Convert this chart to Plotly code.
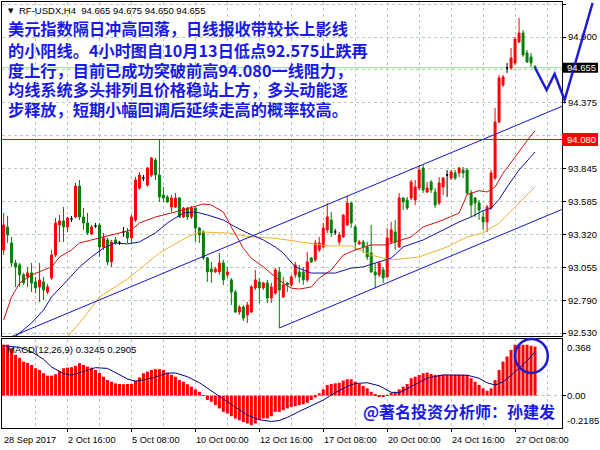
import plotly.graph_objects as go

# ---------------- data ----------------
bar_index = list(range(134))
opens = [93.196, 93.38, 93.252, 93.092, 93.076, 92.996, 92.98, 93.012, 92.94, 92.9,
         92.94, 92.859, 92.972, 93.156, 93.396, 93.428, 93.38, 93.444, 93.46, 93.708,
         93.46, 93.412, 93.324, 93.388, 93.396, 93.22, 93.276, 93.1, 93.276, 93.252,
         93.34, 93.34, 93.292, 93.436, 93.692, 93.772, 93.716, 93.796, 93.916, 93.796,
         93.636, 93.62, 93.54, 93.54, 93.612, 93.46, 93.532, 93.46, 93.532, 93.372,
         93.34, 93.132, 93.044, 93.02, 93.02, 93.092, 92.996, 92.956, 92.859, 92.699,
         92.739, 92.675, 92.699, 92.892, 92.94, 92.892, 92.932, 92.811, 92.851, 93.02,
         92.819, 92.932, 92.916, 92.996, 93.02, 93.02, 92.956, 93.132, 93.116, 93.196,
         93.22, 93.356, 93.436, 93.34, 93.26, 93.3, 93.396, 93.572, 93.38, 93.244,
         93.26, 93.22, 93.172, 93.02, 92.996, 93.036, 92.98, 93.26, 93.34, 93.22,
         93.612, 93.596, 93.612, 93.596, 93.692, 93.852, 93.66, 93.74, 93.66, 93.572,
         93.7, 93.796, 93.772, 93.812, 93.812, 93.836, 93.836, 93.652, 93.612, 93.572,
         93.46, 93.42, 93.532, 93.772, 94.22, 94.516, 94.653, 94.653, 94.693, 94.861,
         94.933, 94.773, 94.741, 94.665]
highs = [93.492, 93.468, 93.3, 93.116, 93.092, 93.012, 93.06, 93.092, 92.98, 93.092,
         92.98, 92.924, 93.196, 93.452, 93.476, 93.54, 93.46, 93.468, 93.732, 93.756,
         93.532, 93.492, 93.396, 93.412, 93.412, 93.332, 93.292, 93.276, 93.3, 93.268,
         93.38, 93.372, 93.476, 93.78, 93.82, 93.796, 93.86, 93.94, 93.932, 94.076,
         93.7, 93.636, 93.636, 93.652, 93.62, 93.54, 93.54, 93.548, 93.54, 93.38,
         93.356, 93.14, 93.1, 93.06, 93.172, 93.116, 93.06, 92.972, 92.875, 92.755,
         92.755, 92.779, 92.916, 93.036, 92.972, 92.94, 92.956, 92.932, 93.052, 93.06,
         92.98, 92.94, 92.996, 93.1, 93.076, 93.06, 93.18, 93.14, 93.276, 93.3,
         93.412, 93.572, 93.5, 93.364, 93.34, 93.484, 93.628, 93.58, 93.396, 93.276,
         93.276, 93.26, 93.396, 93.092, 93.1, 93.06, 93.372, 93.42, 93.436, 93.652,
         93.62, 93.62, 93.756, 93.756, 93.876, 93.876, 93.74, 93.756, 93.692, 93.78,
         93.78, 93.836, 93.836, 93.836, 93.86, 93.86, 93.852, 93.676, 93.62, 93.596,
         93.516, 93.556, 93.836, 94.332, 94.597, 94.597, 94.693, 94.813, 94.901, 95.053,
         94.957, 94.797, 94.773, 94.675]
lows = [93.156, 93.252, 93.06, 92.9, 92.9, 92.916, 92.9, 92.859, 92.851, 92.779,
        92.795, 92.843, 92.956, 93.14, 93.26, 93.26, 93.34, 93.42, 93.452, 93.436,
        93.356, 93.316, 93.316, 93.372, 93.14, 93.196, 93.076, 93.06, 93.236, 93.236,
        93.3, 93.252, 93.252, 93.42, 93.676, 93.748, 93.7, 93.78, 93.756, 93.58,
        93.58, 93.572, 93.5, 93.532, 93.452, 93.452, 93.436, 93.444, 93.26, 93.252,
        93.116, 92.94, 92.932, 93.012, 92.996, 92.916, 92.972, 92.755, 92.691, 92.675,
        92.627, 92.611, 92.691, 92.875, 92.771, 92.875, 92.771, 92.771, 92.835, 92.571,
        92.811, 92.859, 92.9, 92.972, 92.932, 92.916, 92.94, 93.092, 93.1, 93.18,
        93.212, 93.332, 93.3, 93.316, 93.236, 93.292, 93.388, 93.372, 93.196, 93.236,
        93.172, 93.116, 93.012, 92.892, 92.98, 92.932, 92.972, 93.252, 93.196, 93.212,
        93.516, 93.516, 93.596, 93.556, 93.676, 93.652, 93.652, 93.652, 93.532, 93.556,
        93.636, 93.62, 93.756, 93.756, 93.78, 93.772, 93.636, 93.46, 93.46, 93.436,
        93.356, 93.34, 93.516, 93.756, 94.212, 94.5, 94.613, 94.637, 94.677, 94.853,
        94.741, 94.693, 94.661, 94.65]
closes = [93.396, 93.316, 93.092, 93.06, 92.996, 92.932, 93.012, 92.932, 92.892, 92.956,
          92.875, 92.9, 93.156, 93.412, 93.428, 93.38, 93.452, 93.444, 93.708, 93.46,
          93.412, 93.332, 93.38, 93.388, 93.22, 93.292, 93.1, 93.26, 93.252, 93.252,
          93.34, 93.292, 93.46, 93.756, 93.796, 93.772, 93.852, 93.932, 93.796, 93.62,
          93.612, 93.58, 93.612, 93.612, 93.46, 93.532, 93.46, 93.532, 93.372, 93.316,
          93.132, 93.02, 93.02, 93.044, 93.092, 92.956, 93.02, 92.859, 92.699, 92.739,
          92.651, 92.755, 92.9, 92.956, 92.892, 92.932, 92.811, 92.9, 93.036, 92.875,
          92.916, 92.916, 92.98, 93.076, 92.98, 92.956, 93.1, 93.1, 93.252, 93.252,
          93.372, 93.46, 93.332, 93.34, 93.316, 93.476, 93.572, 93.412, 93.26, 93.26,
          93.22, 93.14, 93.02, 92.996, 93.092, 92.972, 93.292, 93.356, 93.26, 93.612,
          93.58, 93.532, 93.74, 93.7, 93.836, 93.676, 93.692, 93.676, 93.556, 93.732,
          93.772, 93.796, 93.82, 93.772, 93.852, 93.812, 93.652, 93.556, 93.572, 93.516,
          93.42, 93.54, 93.812, 94.22, 94.573, 94.581, 94.653, 94.733, 94.885, 94.933,
          94.757, 94.701, 94.693, 94.655]

ma_fast_bars = [0, 2, 4, 7, 10, 12, 14, 17, 19, 22, 24, 27, 29, 32, 34, 38, 43, 47, 50, 52,
                55, 57, 60, 62, 65, 68, 70, 72, 74, 77, 79, 82, 85, 88, 92, 96, 98, 102, 105, 110,
                114, 116, 119, 121, 123, 125, 127, 129, 131, 133]
ma_fast_vals = [92.635, 92.82, 92.931, 92.995, 93.035, 93.06, 93.14, 93.196, 93.252, 93.276,
                93.292, 93.316, 93.332, 93.356, 93.412, 93.46, 93.5, 93.54, 93.564, 93.556,
                93.5, 93.38, 93.21, 93.13, 93.06, 92.98, 92.93, 92.89, 92.883, 92.899,
                92.971, 93.035, 93.155, 93.196, 93.236, 93.236, 93.26, 93.3, 93.38, 93.436,
                93.492, 93.64, 93.67, 93.66, 93.70, 93.81, 93.90, 93.98, 94.07, 94.15]
ma_mid_bars = [1, 7, 10, 12, 16, 19, 22, 25, 28, 31, 34, 38, 41, 45, 48, 51, 55, 58, 61, 65,
               68, 70, 73, 77, 80, 83, 87, 90, 93, 97, 100, 105, 110, 114, 117, 120, 122, 124,
               126, 129, 133]
ma_mid_vals = [92.45, 92.611, 92.715, 92.82, 92.955, 93.06, 93.14, 93.212, 93.252, 93.244,
               93.26, 93.332, 93.412, 93.492, 93.5, 93.476, 93.436, 93.38, 93.332, 93.276,
               93.22, 93.171, 93.06, 93.011, 93.011, 93.011, 93.051, 93.06, 93.091, 93.131,
               93.22, 93.276, 93.356, 93.42, 93.46, 93.51, 93.53, 93.6, 93.70, 93.836, 93.98]
ma_slow_bars = [15, 16, 20, 24, 31, 39, 46, 49, 56, 62, 68, 77, 81, 87, 92, 97, 104, 111, 116,
                120, 124, 128, 133]
ma_slow_vals = [92.45, 92.499, 92.651, 92.819, 92.963, 93.171, 93.3, 93.34, 93.332, 93.3,
                93.29, 93.25, 93.228, 93.228, 93.155, 93.115, 93.14, 93.22, 93.3, 93.332,
                93.41, 93.54, 93.70]

macd_main = [0.337, 0.337, 0.315, 0.27, 0.25, 0.225, 0.217, 0.203, 0.181, 0.17,
             0.148, 0.132, 0.132, 0.141, 0.165, 0.181, 0.185, 0.188, 0.197, 0.215,
             0.203, 0.192, 0.185, 0.17, 0.15, 0.125, 0.103, 0.092, 0.081, 0.077,
             0.075, 0.077, 0.077, 0.1, 0.12, 0.148, 0.159, 0.17, 0.175, 0.175,
             0.17, 0.152, 0.137, 0.125, 0.103, 0.092, 0.075, 0.059, 0.041, 0.025,
             0.003, -0.03, -0.041, -0.063, -0.085, -0.108, -0.119, -0.137, -0.152, -0.163,
             -0.175, -0.185, -0.197, -0.185, -0.163, -0.152, -0.152, -0.137, -0.108, -0.108,
             -0.097, -0.085, -0.075, -0.07, -0.063, -0.057, -0.048, -0.03, -0.012, 0.015,
             0.041, 0.07, 0.077, 0.081, 0.085, 0.099, 0.108, 0.108, 0.092, 0.077,
             0.063, 0.048, 0.025, 0.01, -0.003, -0.008, 0.003, 0.019, 0.025, 0.041,
             0.059, 0.077, 0.115, 0.125, 0.137, 0.148, 0.152, 0.143, 0.137, 0.137,
             0.137, 0.137, 0.137, 0.137, 0.137, 0.137, 0.137, 0.115, 0.092, 0.07,
             0.048, 0.032, 0.048, 0.103, 0.17, 0.225, 0.259, 0.303, 0.337, 0.337,
             0.337, 0.337, 0.33, 0.3245]
signal_bars = [0, 4, 7, 10, 12, 15, 17, 20, 23, 26, 28, 31, 33, 35, 38, 41, 43, 46, 49, 52,
               55, 58, 61, 64, 67, 69, 71, 74, 77, 80, 83, 86, 88, 91, 94, 97, 99, 102, 106, 110,
               116, 119, 121, 123, 125, 127, 129, 131, 133]
signal_vals = [0.33, 0.32, 0.29, 0.24, 0.19, 0.145, 0.135, 0.16, 0.185, 0.18,
               0.15, 0.11, 0.095, 0.103, 0.123, 0.148, 0.15, 0.125, 0.085, 0.03,
               -0.02, -0.075, -0.13, -0.16, -0.172, -0.165, -0.145, -0.105, -0.07, -0.03,
               0.02, 0.06, 0.08, 0.085, 0.065, 0.022, 0.018, 0.06, 0.115, 0.137,
               0.135, 0.115, 0.085, 0.07, 0.09, 0.135, 0.18, 0.23, 0.2905]

time_tick_bars = [0, 16, 32, 48, 64, 80, 96, 112, 128]
time_tick_labels = ["28 Sep 2017", "2 Oct 16:00", "5 Oct 08:00", "10 Oct 00:00", "12 Oct 16:00",
                    "17 Oct 08:00", "20 Oct 00:00", "24 Oct 16:00", "27 Oct 08:00"]
price_tick_vals = [92.530, 92.790, 93.055, 93.320, 93.585, 93.845, 94.110, 94.375, 94.640, 94.900, 95.165]
price_tick_labels = ["92.530", "92.790", "93.055", "93.320", "93.585", "93.845", "", "94.375", "", "94.900", "95.165"]
macd_scale_vals = [0.368, 0.0, -0.2185]
macd_scale_labels = ["0.368", "0.00", "-0.2185"]

resistance_level = 94.080
bid_price = 94.655
upper_channel_bars = [0, 139.9]
upper_channel_prices = [92.475, 94.348]
lower_channel_bars = [69, 139.7]
lower_channel_prices = [92.571, 93.52]
forecast_bars = [133, 135.9, 137.9, 140.4, 147.4]
forecast_prices = [94.655, 94.476, 94.605, 94.396, 95.173]
circle_bars = [128.0, 136.2]
circle_vals = [0.15, 0.375]

title_text = "RF-USDX,H4  94.665 94.675 94.650 94.655"
macd_text = "MACD(12,26,9) 0.3245 0.2905"
comment_lines = ["美元指数隔日冲高回落，日线报收带较长上影线",
                 "的小阳线。4小时图自10月13日低点92.575止跌再",
                 "度上行，目前已成功突破前高94.080一线阻力，",
                 "均线系统多头排列且价格稳站上方，多头动能逐",
                 "步释放，短期小幅回调后延续走高的概率较高。"]
signature = "@著名投资分析师：孙建发"

# ---------------- layout geometry ----------------
W, H = 600, 450
ML, MR, MT, MB = 2, 38, 2, 22
PW, PH = W - ML - MR, H - MT - MB
X_RANGE = [-0.4, 139.75]
P_RANGE = [92.507, 95.181]
M_RANGE = [-0.215, 0.375]
P_DOM = [92 / PH, 1.0]
M_DOM = [0.0, 89 / PH]

UP, DOWN = "#ff0000", "#008000"
GRID = "#b9ccb9"
BLUE_TXT = "#1a1ae6"


def bx(b):
    return (b - X_RANGE[0]) / (X_RANGE[1] - X_RANGE[0])


def py(p):
    return P_DOM[0] + (p - P_RANGE[0]) / (P_RANGE[1] - P_RANGE[0]) * (P_DOM[1] - P_DOM[0])


def my(v):
    return M_DOM[0] + (v - M_RANGE[0]) / (M_RANGE[1] - M_RANGE[0]) * (M_DOM[1] - M_DOM[0])


def pxx(xpix):
    return (xpix - ML) / PW


def pxy(ypix):
    return 1 - (ypix - MT) / PH


fig = go.Figure()

normal = [i for i in bar_index if opens[i] != closes[i]]
doji = [i for i in bar_index if opens[i] == closes[i]]


def pick(arr, idx):
    return [arr[i] for i in idx]


fig.add_trace(go.Candlestick(
    x=pick(bar_index, normal), open=pick(opens, normal), high=pick(highs, normal),
    low=pick(lows, normal), close=pick(closes, normal), xaxis="x2", yaxis="y",
    increasing=dict(line=dict(color=UP, width=1), fillcolor=UP),
    decreasing=dict(line=dict(color=DOWN, width=1), fillcolor=DOWN),
    whiskerwidth=0, hoverinfo="skip", showlegend=False))
fig.add_trace(go.Candlestick(
    x=pick(bar_index, doji), open=pick(opens, doji), high=pick(highs, doji),
    low=pick(lows, doji), close=pick(closes, doji), xaxis="x2", yaxis="y",
    increasing=dict(line=dict(color="#000000", width=1), fillcolor="#000000"),
    decreasing=dict(line=dict(color="#000000", width=1), fillcolor="#000000"),
    whiskerwidth=0, hoverinfo="skip", showlegend=False))

for xs, ys, col in [(ma_slow_bars, ma_slow_vals, "#f0b030"),
                    (ma_mid_bars, ma_mid_vals, "#1010a0"),
                    (ma_fast_bars, ma_fast_vals, "#cc1111"),
                    (upper_channel_bars, upper_channel_prices, "#1414c8"),
                    (lower_channel_bars, lower_channel_prices, "#1414c8")]:
    fig.add_trace(go.Scatter(x=xs, y=ys, mode="lines", line=dict(color=col, width=1),
                             xaxis="x2", yaxis="y", hoverinfo="skip", showlegend=False))

fig.add_trace(go.Bar(x=bar_index, y=macd_main, marker=dict(color=UP, line=dict(width=0)),
                     xaxis="x", yaxis="y2", hoverinfo="skip", showlegend=False))
fig.add_trace(go.Scatter(x=signal_bars, y=signal_vals, mode="lines",
                         line=dict(color="#000080", width=1),
                         xaxis="x", yaxis="y2", hoverinfo="skip", showlegend=False))

grid_minor = dict(tickvals=[8 + 16 * k for k in range(9)], showgrid=True, gridcolor=GRID,
                  griddash="3px,3px", gridwidth=1, ticks="")

fig.update_layout(
    width=W, height=H, margin=dict(l=ML, r=MR, t=MT, b=MB),
    paper_bgcolor="white", plot_bgcolor="white", showlegend=False, hovermode=False,
    font=dict(family="Liberation Sans, Arial, sans-serif", size=9.5, color="black"),
    bargap=0.25,
    xaxis=dict(domain=[0, 1], anchor="y2", range=X_RANGE, showline=True, mirror=True,
               linecolor="black", linewidth=1, tickvals=time_tick_bars[1:], ticks="outside",
               ticklen=3, tickcolor="black", showticklabels=False, showgrid=True,
               gridcolor=GRID, griddash="3px,3px", zeroline=False, minor=grid_minor,
               rangeslider=dict(visible=False), fixedrange=True),
    xaxis2=dict(domain=[0, 1], anchor="y", range=X_RANGE, showline=True, mirror=True,
                linecolor="black", linewidth=1, tickvals=time_tick_bars[1:], ticks="",
                showticklabels=False, showgrid=True, gridcolor=GRID, griddash="3px,3px",
                zeroline=False, minor=grid_minor, rangeslider=dict(visible=False),
                fixedrange=True),
    yaxis=dict(domain=P_DOM, anchor="x2", side="right", range=P_RANGE, showline=True,
               mirror=True, linecolor="black", linewidth=1, tickvals=price_tick_vals,
               ticktext=price_tick_labels, ticks="outside", ticklen=3, tickcolor="black",
               tickfont=dict(size=9.5, color="black"), showgrid=True, gridcolor=GRID,
               griddash="3px,3px", zeroline=False, fixedrange=True),
    yaxis2=dict(domain=M_DOM, anchor="x", side="right", range=M_RANGE, showline=True,
                mirror=True, linecolor="black", linewidth=1, tickvals=[0.0], ticks="outside",
                ticklen=3, tickcolor="black", showticklabels=False, showgrid=True,
                gridcolor=GRID, griddash="3px,3px", zeroline=False, fixedrange=True),
)

shapes = []
shapes.append(dict(type="line", xref="x2 domain", x0=0, x1=1, yref="y", y0=bid_price,
                   y1=bid_price, line=dict(color="#8fdc8f", width=1), layer="below"))
shapes.append(dict(type="line", xref="x2 domain", x0=0, x1=1, yref="y", y0=resistance_level,
                   y1=resistance_level, line=dict(color="#d01010", width=1), layer="below"))
box_x1 = pxx(598)
shapes.append(dict(type="rect", xref="paper", yref="paper", x0=1.0, x1=box_x1,
                   y0=py(bid_price) - 5 / PH, y1=py(bid_price) + 5 / PH,
                   fillcolor="black", line=dict(width=0), layer="above"))
shapes.append(dict(type="rect", xref="paper", yref="paper", x0=1.0, x1=box_x1,
                   y0=py(resistance_level) - 6.5 / PH, y1=py(resistance_level) + 6.5 / PH,
                   fillcolor="#ff0000", line=dict(width=0), layer="above"))
path = "M " + " L ".join(f"{bx(b):.5f},{py(p):.5f}" for b, p in zip(forecast_bars, forecast_prices))
shapes.append(dict(type="path", xref="paper", yref="paper", path=path,
                   line=dict(color="#1c1cd0", width=2.5), layer="above"))
shapes.append(dict(type="circle", xref="paper", yref="paper",
                   x0=bx(circle_bars[0]), x1=bx(circle_bars[1]),
                   y0=my(circle_vals[0]), y1=my(circle_vals[1]),
                   line=dict(color="#1c1cd0", width=2.5), layer="above"))
fig.update_layout(shapes=shapes)

ann = []
ann.append(dict(xref="paper", yref="paper", x=pxx(6), y=pxy(11), xanchor="left", yanchor="middle",
                text="▼", showarrow=False, font=dict(size=7, color="black",
                                                    family="DejaVu Sans")))
ann.append(dict(xref="paper", yref="paper", x=pxx(17), y=pxy(11), xanchor="left", yanchor="middle",
                text=title_text, showarrow=False, font=dict(size=9.5, color="black")))
line_y = [28.5, 49.5, 69.5, 89, 108.5]
for t, yy in zip(comment_lines, line_y):
    ann.append(dict(xref="paper", yref="paper", x=pxx(6), y=pxy(yy), xanchor="left",
                    yanchor="middle", text="<b>" + t + "</b>", showarrow=False,
                    font=dict(size=16.2, color=BLUE_TXT, family="Noto Sans CJK SC")))
ann.append(dict(xref="paper", yref="paper", x=pxx(361), y=pxy(411), xanchor="left",
                yanchor="middle", text="<b>" + signature + "</b>", showarrow=False,
                font=dict(size=16, color=BLUE_TXT, family="Noto Sans CJK SC")))
ann.append(dict(xref="paper", yref="paper", x=pxx(5), y=pxy(349), xanchor="left",
                yanchor="middle", text=macd_text, showarrow=False,
                font=dict(size=9.5, color="black")))
ann.append(dict(xref="paper", yref="paper", x=1.0, xshift=3, y=py(bid_price), xanchor="left",
                yanchor="middle", text=f"{bid_price:.3f}", showarrow=False,
                font=dict(size=9.5, color="white")))
ann.append(dict(xref="paper", yref="paper", x=1.0, xshift=3, y=py(resistance_level),
                xanchor="left", yanchor="middle", text=f"{resistance_level:.3f}",
                showarrow=False, font=dict(size=9.5, color="white")))
anchors = ["top", "middle", "bottom"]
for v, t, a in zip(macd_scale_vals, macd_scale_labels, anchors):
    yv = min(max(v, M_RANGE[0]), M_RANGE[1])
    ann.append(dict(xref="paper", yref="paper", x=1.0, xshift=3, y=my(yv), xanchor="left",
                    yanchor=a, text=t, showarrow=False, font=dict(size=9.5, color="black")))
for b, t in zip(time_tick_bars, time_tick_labels):
    ann.append(dict(xref="x", yref="paper", x=b, xshift=-1.5, y=0, yshift=-5, xanchor="left",
                    yanchor="top", text=t, showarrow=False, font=dict(size=9.2, color="black")))
fig.update_layout(annotations=ann)

fig.write_html("out.html", config={"displayModeBar": False},
               post_script="document.body.style.margin='0';document.body.style.overflow='hidden';")
